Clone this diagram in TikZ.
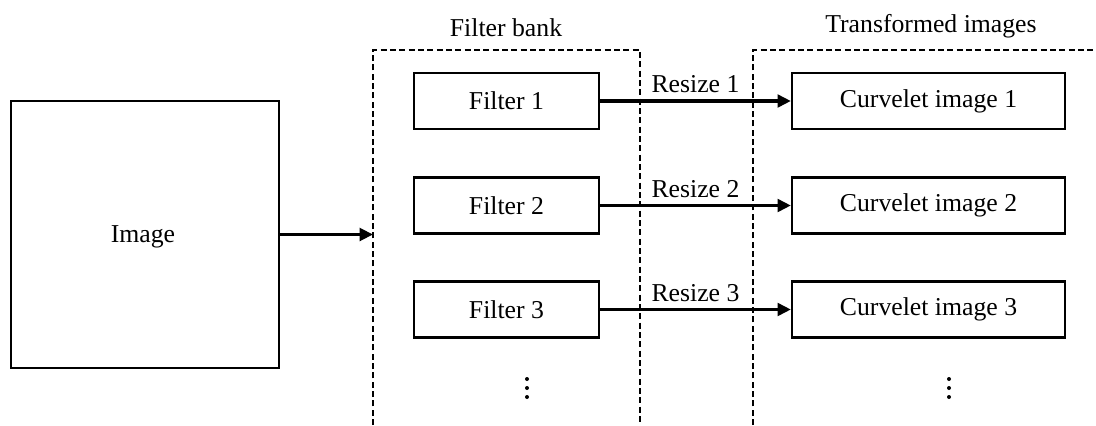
\documentclass[tikz,border=0pt]{standalone}
\usepackage{fontspec}
\setmainfont{Liberation Serif}
\usetikzlibrary{arrows.meta}
\begin{document}
\begin{tikzpicture}[x=0.75pt,y=-0.75pt,
  every node/.style={font=\fontsize{19.3}{23}\selectfont},
  box/.style={draw,line width=1.7pt,inner sep=0pt},
  filterbox/.style={box,minimum width=138.75pt,minimum height=42pt},
  curvebox/.style={box,minimum width=204.75pt,minimum height=42pt},
  imgbox/.style={box,minimum width=201pt,minimum height=200pt},
  group/.style={line width=1.3pt,dash pattern=on 4.5pt off 2.5pt},
  flow/.style={line width=2.3pt,-{Triangle[length=10pt,width=9.5pt]}},
  lbl/.style={inner sep=0pt},
  dot/.style={fill,draw=none}]
\useasboundingbox (0,0) rectangle (1096,425);
% group frames
\draw[group] (373,425) -- (373,50) -- (640,50) -- (640,425);
\draw[group] (753,425) -- (753,50) -- (1096,50);
\node[lbl,anchor=base] (fbt) at (506,36) {Filter bank};
\node[lbl,anchor=base] (tit) at (931,32) {Transformed images};
% image
\node[imgbox] (img) at (145,234.5) {};
\node[lbl] (imgt) at (143,237) {Image};
\coordinate (fbin) at (373,234.5);
\draw[flow] (img.east |- fbin) -- (fbin);
% filters
\node[filterbox] (f1) at (506.5,101) {Filter 1};
\node[filterbox] (f2) at (506.5,205.5) {Filter 2};
\node[filterbox] (f3) at (506.5,309.5) {Filter 3};
\node[curvebox] (c1) at (928.5,101) {Curvelet image 1};
\node[curvebox] (c2) at (928.5,205.5) {Curvelet image 2};
\node[curvebox] (c3) at (928.5,309.5) {Curvelet image 3};
\draw[flow] (f1) -- (c1) node[lbl,midway,above=5pt] (r1) {Resize 1};
\draw[flow] (f2) -- (c2) node[lbl,midway,above=5pt] (r2) {Resize 2};
\draw[flow] (f3) -- (c3) node[lbl,midway,above=5pt] (r3) {Resize 3};
% dots
\foreach \y in {379,388,397} {
  \fill (527,\y) circle (1.5pt);
  \fill (949,\y) circle (1.5pt);
}
\end{tikzpicture}
\end{document}
